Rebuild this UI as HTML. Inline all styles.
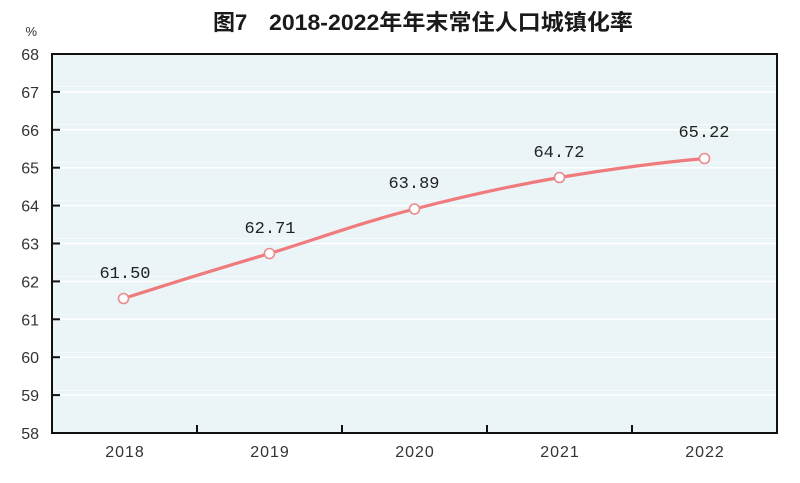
<!DOCTYPE html>
<html>
<head>
<meta charset="utf-8">
<style>
  html,body{margin:0;padding:0;background:#ffffff;}
  body{width:800px;height:483px;overflow:hidden;}
  svg{display:block;}
</style>
</head>
<body>
<svg width="800" height="483" viewBox="0 0 800 483" xmlns="http://www.w3.org/2000/svg">
  <!-- Title -->
  <text x="213" y="30" font-family="'Liberation Sans','Noto Sans CJK SC',sans-serif" font-size="22" font-weight="bold" fill="#1a1a1a">图7</text>
  <text x="269" y="30" font-family="'Liberation Sans','Noto Sans CJK SC',sans-serif" font-size="22" font-weight="bold" fill="#1a1a1a" textLength="364" lengthAdjust="spacingAndGlyphs">2018-2022年年末常住人口城镇化率</text>

  <!-- plot background -->
  <rect x="52" y="54" width="725" height="379" fill="#ebf4f7"/>
  <!-- gridlines -->
  <g stroke="#ffffff" stroke-width="1.5">
    <line x1="53" y1="91.9" x2="776" y2="91.9"/>
    <line x1="53" y1="129.8" x2="776" y2="129.8"/>
    <line x1="53" y1="167.7" x2="776" y2="167.7"/>
    <line x1="53" y1="205.6" x2="776" y2="205.6"/>
    <line x1="53" y1="243.5" x2="776" y2="243.5"/>
    <line x1="53" y1="281.4" x2="776" y2="281.4"/>
    <line x1="53" y1="319.3" x2="776" y2="319.3"/>
    <line x1="53" y1="357.2" x2="776" y2="357.2"/>
    <line x1="53" y1="395.1" x2="776" y2="395.1"/>
  </g>
  <g stroke="#f4f9fb" stroke-width="1">
    <line x1="53" y1="86.5" x2="776" y2="86.5"/>
    <line x1="53" y1="124.5" x2="776" y2="124.5"/>
    <line x1="53" y1="162.5" x2="776" y2="162.5"/>
    <line x1="53" y1="200.5" x2="776" y2="200.5"/>
    <line x1="53" y1="238.5" x2="776" y2="238.5"/>
    <line x1="53" y1="276.5" x2="776" y2="276.5"/>
    <line x1="53" y1="314.5" x2="776" y2="314.5"/>
    <line x1="53" y1="352.5" x2="776" y2="352.5"/>
    <line x1="53" y1="390.5" x2="776" y2="390.5"/>
  </g>

  <!-- frame -->
  <rect x="52" y="54" width="725" height="379" fill="none" stroke="#111" stroke-width="2"/>

  <!-- y ticks -->
  <g stroke="#111" stroke-width="2">
    <line x1="52" y1="91.9" x2="60" y2="91.9"/>
    <line x1="52" y1="129.8" x2="60" y2="129.8"/>
    <line x1="52" y1="167.7" x2="60" y2="167.7"/>
    <line x1="52" y1="205.6" x2="60" y2="205.6"/>
    <line x1="52" y1="243.5" x2="60" y2="243.5"/>
    <line x1="52" y1="281.4" x2="60" y2="281.4"/>
    <line x1="52" y1="319.3" x2="60" y2="319.3"/>
    <line x1="52" y1="357.2" x2="60" y2="357.2"/>
    <line x1="52" y1="395.1" x2="60" y2="395.1"/>
    <!-- x ticks -->
    <line x1="197" y1="433" x2="197" y2="425"/>
    <line x1="342" y1="433" x2="342" y2="425"/>
    <line x1="487" y1="433" x2="487" y2="425"/>
    <line x1="632" y1="433" x2="632" y2="425"/>
  </g>

  <!-- y labels -->
  <g font-family="'Liberation Sans',sans-serif" font-size="16" fill="#333" text-anchor="end">
    <text x="37" y="36" font-size="13">%</text>
    <text x="39" y="60">68</text>
    <text x="39" y="97.9">67</text>
    <text x="39" y="135.8">66</text>
    <text x="39" y="173.7">65</text>
    <text x="39" y="211.6">64</text>
    <text x="39" y="249.5">63</text>
    <text x="39" y="287.4">62</text>
    <text x="39" y="325.3">61</text>
    <text x="39" y="363.2">60</text>
    <text x="39" y="401.1">59</text>
    <text x="39" y="439">58</text>
  </g>

  <!-- x labels -->
  <g font-family="'Liberation Sans',sans-serif" font-size="16" fill="#333" text-anchor="middle" letter-spacing="1">
    <text x="125" y="457">2018</text>
    <text x="270" y="457">2019</text>
    <text x="415" y="457">2020</text>
    <text x="560" y="457">2021</text>
    <text x="705" y="457">2022</text>
  </g>

  <!-- series -->
  <path d="M123.5,298.5 C175,282 220,268 269.5,253.5 C320,238 360,223 414.5,209 C465,196 510,186 559.5,177.5 C610,169 655,163 704.5,158.5" fill="none" stroke="#ef7b7d" stroke-width="3.2" stroke-linecap="round"/>
  <g fill="#ffffff" stroke="#e98a8c" stroke-width="1.6">
    <circle cx="123.5" cy="298.5" r="5"/>
    <circle cx="269.5" cy="253.5" r="5"/>
    <circle cx="414.5" cy="209" r="5"/>
    <circle cx="559.5" cy="177.5" r="5"/>
    <circle cx="704.5" cy="158.5" r="5"/>
  </g>

  <!-- data labels -->
  <g font-family="'Liberation Mono',monospace" font-size="17" fill="#222" text-anchor="middle">
    <text x="125" y="278">61.50</text>
    <text x="270" y="233">62.71</text>
    <text x="414" y="188">63.89</text>
    <text x="559" y="157">64.72</text>
    <text x="704" y="137">65.22</text>
  </g>
</svg>
</body>
</html>
